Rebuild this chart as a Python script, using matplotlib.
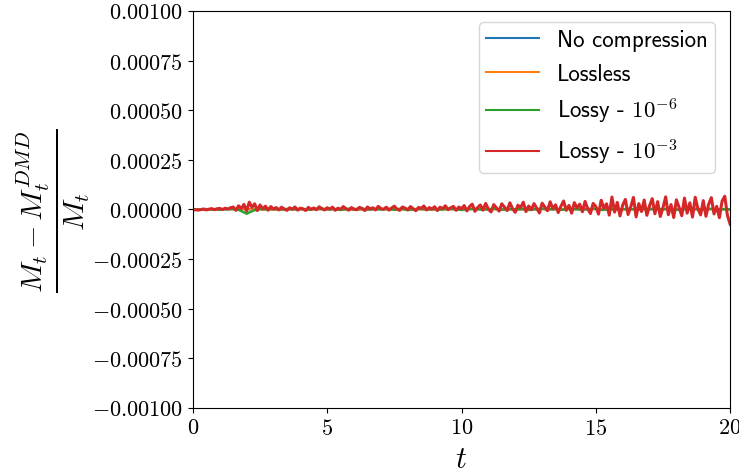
import numpy as np
import matplotlib.pyplot as plt
from matplotlib.ticker import FuncFormatter

plt.rcParams['mathtext.fontset'] = 'cm'
plt.rcParams['font.family'] = 'cmss10'
plt.rcParams['axes.unicode_minus'] = False

# relative error of the DMD reconstruction, in units of 1e-5
t_fine = np.linspace(0, 20, 201)
t_mid = np.linspace(0, 20, 81)
t_coarse = np.linspace(0, 20, 41)

err_none = [0.0, -0.1, 0.1, 0.0, 0.1, 0.0, -0.1, 0.1, 0.0, 0.1,
            0.0, 0.1, -0.1, 0.0, 0.1, 0.0, 0.1, 0.0, -0.1, 0.1,
            0.0, 0.1, 0.0, 0.1, -0.1, 0.0, 0.1, 0.0, 0.1, 0.0,
            0.1, -0.1, 0.0, 0.1, 0.0, 0.1, -0.1, 0.1, 0.0, 0.1, 0.0]
err_lossless = list(err_none)
err_lossy6 = [0.0, -0.1, 0.1, 0.0, -0.2, 0.1, 0.3, -0.5, -2.2, -0.6,
              0.2, 0.1, 0.3, -0.1, 0.2, 0.0, 0.3, -0.2, 0.1, 0.4,
              0.0, 0.2, -0.3, 0.3, 0.1, 0.4, -0.1, 0.2, 0.0, 0.3,
              -0.2, 0.4, -0.4, 0.1, 0.3, 0.0, 0.2, -0.1, 0.4, 0.1,
              -0.3, 0.2, 0.3, -0.1, 0.1, 0.4, -0.2, 0.2, 0.0, 0.3,
              -0.3, 0.1, 0.4, 0.0, 0.2, -0.2, 0.3, 0.1, -0.1, 0.2,
              0.4, -0.3, 0.1, 0.2, 0.0, 0.3, -0.2, 0.1, 0.4, -0.1,
              0.2, 0.0, -0.3, 0.3, 0.1, 0.2, -0.1, 0.3, 0.0, 0.1, 0.0]
err_lossy3 = [
    -0.3, -0.2, -0.4, -0.1, 0.2, -0.3, 0.1, 0.4, -0.2, 0.3, 0.5, -0.1, 0.6, 0.2, 0.8,
    1.2, -0.5, 1.8, 0.4, 2.5, -0.8, 3.6, 1.0, 2.8, -0.6, 2.2, 0.3, 1.6, -0.4, 1.4, 0.2,
    0.9, -0.3, 1.1, 0.2, -0.5, 0.8, 0.1, 1.2, -0.4, 0.6,
    0.3, -0.6, 1.0, 0.0, 0.7, -0.2, 1.3, 0.4, -0.3, 0.8,
    0.2, 1.1, -0.5, 0.6, 0.0, 1.4, 0.3, -0.4, 0.9, 0.1,
    -0.2, 1.0, 0.5, -0.6, 1.2, 0.2, 0.8, -0.3, 1.5, 0.4,
    0.0, 1.1, -0.4, 0.7, 1.6, 0.1, -0.5, 1.2, 0.6, -0.2,
    1.4, 0.3, -0.7, 1.0, 0.5, 1.7, -0.3, 0.9, 0.2, 1.3,
    -0.6, 1.1, 0.4, 1.8, -0.2, 0.8, 1.5, -0.5, 1.2, 0.3,
    1.9, -0.8, 1.4, 2.6, -1.0, 0.9, 2.2, -0.4, 3.0, 0.1,
    -1.3, 2.4, 0.8, -0.9, 2.8, 1.1, -0.6, 3.3, 0.4, -1.5,
    2.1, 0.9, 3.6, -1.1, 1.7, -0.2, 2.9, 0.6, -1.8, 3.1,
    1.2, -0.7, 3.8, 0.3, 2.3, -1.6, 1.5, 4.2, -0.5, 2.0,
    -1.9, 3.4, 0.7, 2.6, -1.2, 4.0, 0.2, -2.1, 3.0, 1.4,
    -2.4, 4.6, 0.5, 2.8, -2.9, 6.2, -1.4, 3.5, -3.3, 2.1,
    5.0, -2.6, 1.2, 6.0, -3.8, 2.9, -1.1, 4.7, -3.0, 1.8,
    5.4, -2.2, 3.9, -3.6, 0.8, 6.3, -2.7, 2.4, -4.1, 4.8,
    1.0, -3.2, 5.7, -1.9, 3.3, -3.9, 6.1, 0.4, -2.8, 4.4,
    -3.5, 2.6, 5.9, -2.3, 1.5, -4.2, 4.1, 6.6, -3.1, -7.5]

scale = 1e-5

fig = plt.figure(figsize=(7.39, 4.77), dpi=100)
ax = fig.add_axes([0.261, 0.143, 0.727, 0.832])

ax.plot(t_coarse, np.array(err_none) * scale, color='C0', lw=1.5, label='No compression')
ax.plot(t_coarse, np.array(err_lossless) * scale, color='C1', lw=1.5, label='Lossless')
ax.plot(t_mid, np.array(err_lossy6) * scale, color='C2', lw=1.8, label=r'Lossy - $10^{-6}$')
ax.plot(t_fine, np.array(err_lossy3) * scale, color='C3', lw=2.2, label=r'Lossy - $10^{-3}$')

ax.set_xlim(0, 20)
ax.set_ylim(-0.001, 0.001)
ax.set_xticks([0, 5, 10, 15, 20])
ax.set_yticks(np.linspace(-0.001, 0.001, 9))
ax.xaxis.set_major_formatter(FuncFormatter(lambda v, p: r'$%d$' % v))
ax.yaxis.set_major_formatter(FuncFormatter(
    lambda v, p: r'$%.5f$' % (0.0 if abs(v) < 1e-12 else v)))
ax.tick_params(labelsize=16)

ax.set_xlabel(r'$t$', fontsize=22, labelpad=6)
ax.set_ylabel(r'$\frac{M_t - M_t^{DMD}}{M_t}$', fontsize=31, labelpad=0)

leg = ax.legend(loc='upper right', fontsize=16.5, handlelength=2.3,
                labelspacing=0.5, handletextpad=0.8, borderpad=0.3,
                bbox_to_anchor=(0.993, 1.0))
for line in leg.get_lines():
    line.set_linewidth(1.5)

fig.savefig('out.png', dpi=100)
